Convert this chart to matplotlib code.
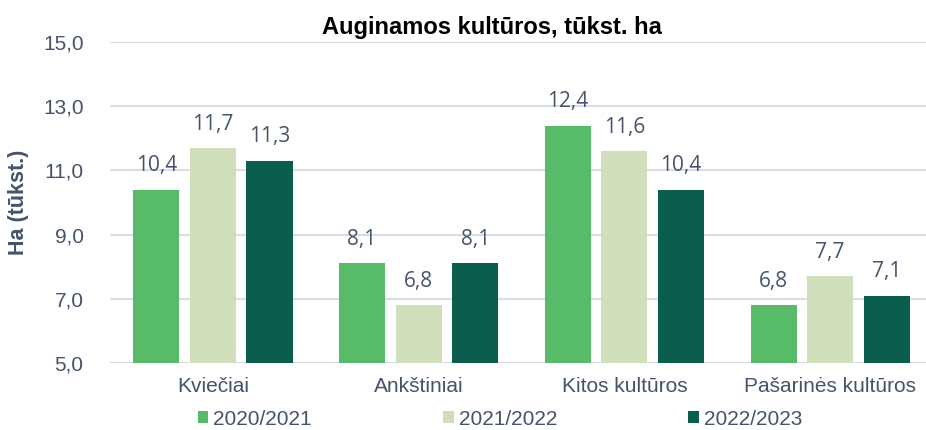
import numpy as np
import matplotlib.pyplot as plt
from matplotlib.ticker import FuncFormatter

# Data
categories = ['Kviečiai', 'Ankštiniai', 'Kitos kultūros', 'Pašarinės kultūros']
seasons = ['2020/2021', '2021/2022', '2022/2023']
values = {
    '2020/2021': [10.4, 8.1, 12.4, 6.8],
    '2021/2022': [11.7, 6.8, 11.6, 7.7],
    '2022/2023': [11.3, 8.1, 10.4, 7.1],
}
colors = ['#57BB6A', '#D0DEBB', '#0B5E4D']
text_col = '#44546A'

plt.rcParams['font.family'] = ['Liberation Sans', 'DejaVu Sans']

fig = plt.figure(figsize=(9.26, 4.30), dpi=100)
ax = fig.add_axes([0.1188, 0.156, 0.8888, 0.746])

x = np.arange(len(categories))
width = 0.224
offset = 0.275
for i, s in enumerate(seasons):
    pos = x + (i - 1) * offset
    bars = ax.bar(pos, values[s], width, color=colors[i], label=s, zorder=3)
    for b, v in zip(bars, values[s]):
        ax.text(b.get_x() + b.get_width() / 2, v + 0.42, f'{v:.1f}'.replace('.', ','),
                ha='center', va='bottom', fontsize=15, color=text_col,
                family=['Open Sans', 'DejaVu Sans'])

ax.set_ylim(5, 15)
ax.set_yticks([5, 7, 9, 11, 13, 15])
ax.yaxis.set_major_formatter(FuncFormatter(lambda v, p: f'{v:.1f}'.replace('.', ',')))
ax.set_xlim(-0.5, 3.5)
ax.set_xticks(x)
ax.set_xticklabels(categories)
ax.tick_params(axis='both', length=0, labelsize=15, labelcolor=text_col)
ax.tick_params(axis='y', pad=19)
ax.tick_params(axis='x', pad=10)
ax.grid(axis='y', color='#D9DEE6', linewidth=1.5, zorder=0)
for sp in ax.spines.values():
    sp.set_visible(False)
ax.axhline(5, color='#D9DEE6', linewidth=1.5, zorder=1)

ax.set_ylabel('Ha (tūkst.)', fontsize=15.5, fontweight='bold', color=text_col, labelpad=10)
fig.text(0.531, 0.937, 'Auginamos kultūros, tūkst. ha', ha='center', va='center',
         fontsize=17, fontweight='bold', color='black')

leg = fig.legend(loc='center', bbox_to_anchor=(0.54, 0.025), ncol=3, frameon=False,
                 fontsize=15, handlelength=0.5, handleheight=0.5, handletextpad=0.25,
                 columnspacing=6.3, labelcolor=text_col)

fig.savefig('out.png', dpi=100)
